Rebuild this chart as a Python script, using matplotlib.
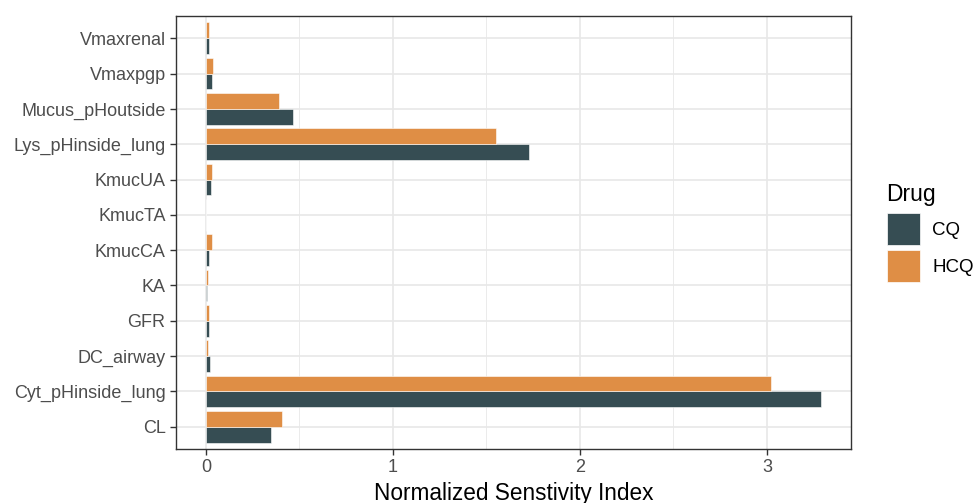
import matplotlib
matplotlib.use("Agg")
import matplotlib.pyplot as plt
from matplotlib.patches import Rectangle
import numpy as np

plt.rcParams['font.family'] = ['Liberation Sans', 'DejaVu Sans']

# sensitivity indices per parameter (bottom to top)
params = ['CL', 'Cyt_pHinside_lung', 'DC_airway', 'GFR', 'KA', 'KmucCA',
          'KmucTA', 'KmucUA', 'Lys_pHinside_lung', 'Mucus_pHoutside',
          'Vmaxpgp', 'Vmaxrenal']
cq = [0.347, 3.29, 0.02, 0.015, 0.007, 0.015, 0.0, 0.027, 1.73, 0.465, 0.03, 0.015]
hcq = [0.406, 3.02, 0.01, 0.015, 0.01, 0.032, 0.0, 0.03, 1.55, 0.39, 0.04, 0.015]
drugs = ['CQ', 'HCQ']
colors = {'CQ': '#364D53', 'HCQ': '#DF8E45'}

W, H = 975, 503
fig = plt.figure(figsize=(W / 100, H / 100), dpi=100)
ax = fig.add_axes([176 / W, (H - 449) / H, (851 - 176) / W, (449 - 16) / H])

y = np.arange(len(params))
bw = 0.45
ax.barh(y - bw / 2, cq, height=bw, color=colors['CQ'], edgecolor='white', linewidth=0.4, zorder=3)
ax.barh(y + bw / 2, hcq, height=bw, color=colors['HCQ'], edgecolor='white', linewidth=0.4, zorder=3)

ax.set_xlim(-0.16, 3.45)
ax.set_ylim(-0.63, len(params) - 0.37)
ax.set_yticks(y)
ax.set_yticklabels(params)
ax.set_xticks([0, 1, 2, 3])
ax.set_xticks([0.5, 1.5, 2.5], minor=True)

ax.grid(True, which='major', color='#E8E8E8', linewidth=1.2, zorder=0)
ax.grid(True, which='minor', axis='x', color='#EBEBEB', linewidth=0.7, zorder=0)
for s in ax.spines.values():
    s.set_color('#333333')
    s.set_linewidth(1.0)
ax.tick_params(which='major', length=4, width=1, color='#333333',
               labelcolor='#4D4D4D', labelsize=13)
ax.tick_params(which='minor', length=0)
ax.set_xlabel('Normalized Senstivity Index', fontsize=16.3, color='black', labelpad=4)

# legend
fig.text(886 / W, 1 - 195 / H, 'Drug', fontsize=16.5, va='center', ha='left')
for i, d in enumerate(drugs):
    top = 213 + i * 37
    fig.add_artist(Rectangle((887 / W, 1 - (top + 32) / H), 33 / W, 32 / H,
                             transform=fig.transFigure, facecolor=colors[d],
                             edgecolor='white', linewidth=0.5))
    fig.text(932 / W, 1 - (top + 17) / H, d, fontsize=13.5, va='center', ha='left')

fig.savefig('out.png', dpi=100)
